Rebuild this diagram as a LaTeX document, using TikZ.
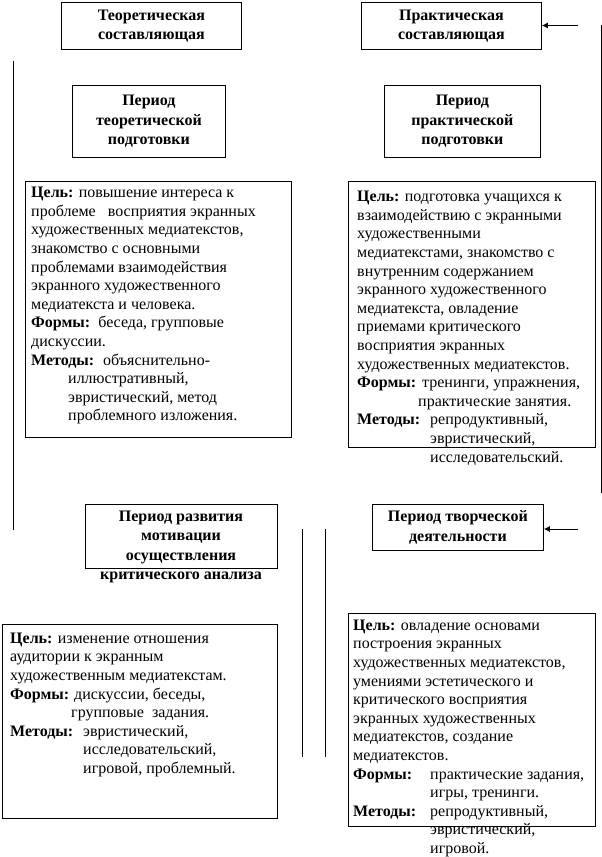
\documentclass[tikz,border=0pt]{standalone}
\usepackage{fontspec}
\setmainfont{Liberation Serif}
\usetikzlibrary{arrows.meta}

\newcommand{\termbox}[2]{\makebox[#1pt][l]{\textbf{#2}}}

\tikzset{
  frame/.style={draw, line width=0.8pt, inner sep=0pt, anchor=north west},
  head/.style={font=\fontsize{16}{19.5}\selectfont\bfseries, align=center, inner sep=0pt},
  body/.style={font=\fontsize{16}{18.6}\selectfont, align=left, inner sep=0pt, anchor=north west},
  rail/.style={line width=1pt},
  feed/.style={line width=1pt, -{Latex[length=6pt,width=6pt]}}
}

\begin{document}
\begin{tikzpicture}[x=1pt, y=-1pt]
\useasboundingbox (0,0) rectangle (602,857);

% components
\node[frame, minimum width=180pt, minimum height=47pt] (teor) at (61,2) {};
\node[frame, minimum width=180pt, minimum height=47pt] (prakt) at (361,2) {};
\node[head] (teortxt) at (teor) {Теоретическая\\составляющая};
\node[head] (prakttxt) at (prakt) {Практическая\\составляющая};

% periods
\node[frame, minimum width=153pt, minimum height=72pt] (pteor) at (72,85) {};
\node[frame, minimum width=156pt, minimum height=72pt] (pprakt) at (384,85) {};
\node[head] (pteortxt) at (pteor) {Период\\теоретической\\подготовки};
\node[head] (ppraktxt) at (pprakt) {Период\\практической\\подготовки};

\node[frame, minimum width=192pt, minimum height=64pt] (pmotiv) at (85,504) {};
\node[frame, minimum width=171pt, minimum height=46pt] (ptvor) at (372,504) {};
\node[head, anchor=north] (pmotivtxt) at (181,507.4) {\strut Период развития\\мотивации\\осуществления\\критического анализа};
\node[head] (ptvortxt) at (ptvor) {Период творческой\\деятельности};

% goals, forms, methods
\node[frame, minimum width=266pt, minimum height=256pt] (gteor) at (25,181) {};
\node[body] (gteortxt) at (31,184.5) {\strut\textbf{Цель:} повышение интереса к\\
проблеме\hspace{8pt} восприятия экранных\\
художественных медиатекстов,\\
знакомство с основными\\
проблемами взаимодействия\\
экранного художественного\\
медиатекста и человека.\\
\textbf{Формы:}\ \ беседа, групповые\\
дискуссии.\\
\termbox{72}{Методы:}объяснительно-\\
\hspace*{37pt}иллюстративный,\\
\hspace*{37pt}эвристический, метод\\
\hspace*{37pt}проблемного изложения.};

\node[frame, minimum width=247pt, minimum height=266pt] (gprakt) at (348,181) {};
\node[body] (gpraktxt) at (357,188.5) {\strut\textbf{Цель:} подготовка учащихся к\\
взаимодействию с экранными\\
художественными\\
медиатекстами, знакомство с\\
внутренним содержанием\\
экранного художественного\\
медиатекста, овладение\\
приемами критического\\
восприятия экранных\\
художественных медиатекстов.\\
\termbox{65}{Формы:}тренинги, упражнения,\\
\hspace*{61pt}практические занятия.\\
\termbox{73}{Методы:}репродуктивный,\\
\hspace*{73pt}эвристический,\\
\hspace*{73pt}исследовательский.};

\node[frame, minimum width=275pt, minimum height=194pt] (gmotiv) at (2,624) {};
\node[body] (gmotivtxt) at (10,630) {\strut\textbf{Цель:} изменение отношения\\
аудитории к экранным\\
художественным медиатекстам.\\
\termbox{64}{Формы:}дискуссии, беседы,\\
\hspace*{61pt}групповые\ \ задания.\\
\termbox{73}{Методы:}эвристический,\\
\hspace*{73pt}исследовательский,\\
\hspace*{73pt}игровой, проблемный.};

\node[frame, minimum width=247pt, minimum height=213pt] (gtvor) at (348,613) {};
\node[body] (gtvortxt) at (353,617) {\strut\textbf{Цель:} овладение основами\\
построения экранных\\
художественных медиатекстов,\\
умениями эстетического и\\
критического восприятия\\
экранных художественных\\
медиатекстов, создание\\
медиатекстов.\\
\termbox{77}{Формы:}практические задания,\\
\hspace*{77pt}игры, тренинги.\\
\termbox{77}{Методы:}репродуктивный,\\
\hspace*{77pt}эвристический,\\
\hspace*{77pt}игровой.};

% side rails
\coordinate (railLa) at (13,61);
\coordinate (railLb) at (13,530);
\coordinate (railRa) at (601,25);
\coordinate (railRb) at (601,493);
\coordinate (railMa) at (302,529);
\coordinate (railMb) at (302,757);
\coordinate (railNa) at (325,529);
\coordinate (railNb) at (325,757);
\draw[rail] (railLa) -- (railLb);
\draw[rail] (railRa) -- (railRb);
\draw[rail] (railMa) -- (railMb);
\draw[rail] (railNa) -- (railNb);

% arrows
\coordinate (inB) at (578,25.5);
\coordinate (inH) at (578,529);
\draw[feed] (inB) -- (inB -| prakt.east);
\draw[feed] (inH) -- (inH -| ptvor.east);
\end{tikzpicture}
\end{document}
